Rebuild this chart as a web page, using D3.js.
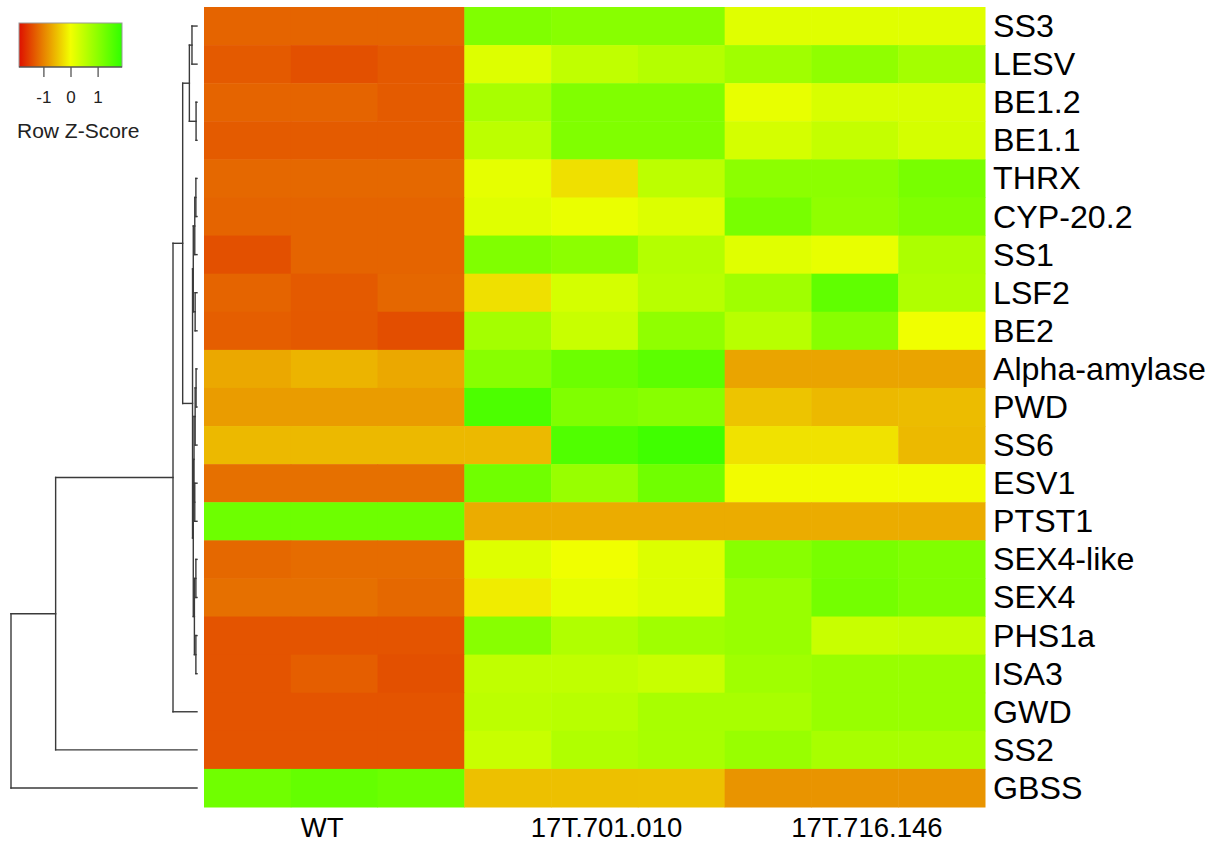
<!DOCTYPE html>
<html>
<head>
<meta charset="utf-8">
<script src="https://cdn.jsdelivr.net/npm/d3@7"></script>
<style>
  html, body { margin: 0; padding: 0; background: #fff; }
  svg { display: block; font-family: "Liberation Sans", Arial, Helvetica, sans-serif; }
</style>
</head>
<body>
<svg id="chart" width="1218" height="845"></svg>
<script>
// ---------------- data ----------------
const genes = ["SS3","LESV","BE1.2","BE1.1","THRX","CYP-20.2","SS1","LSF2","BE2",
  "Alpha-amylase","PWD","SS6","ESV1","PTST1","SEX4-like","SEX4","PHS1a","ISA3","GWD","SS2","GBSS"];
const samples = ["WT-1","WT-2","WT-3","701-1","701-2","701-3","716-1","716-2","716-3"];
const groupLabels = ["WT","17T.701.010","17T.716.146"];
const groupSampleIndex = [1, 4, 7];

// Row z-scores (one array per gene, 9 samples each)
const zSS3    = [-1.23,-1.23,-1.23, 1.12, 1.04, 1.04, 0.18, 0.18, 0.18];
const zLESV   = [-1.31,-1.39,-1.32, 0.21, 0.49, 0.61, 0.80, 0.96, 0.76];
const zBE12   = [-1.23,-1.23,-1.30, 0.72, 1.12, 1.12, 0.10, 0.25, 0.25];
const zBE11   = [-1.30,-1.30,-1.30, 0.53, 1.12, 1.12, 0.29, 0.45, 0.29];
const zTHRX   = [-1.20,-1.20,-1.20, 0.12,-0.25, 0.53, 1.00, 1.00, 1.19];
const zCYP    = [-1.23,-1.23,-1.23, 0.18, 0.08, 0.22, 1.19, 0.96, 1.12];
const zSS1    = [-1.39,-1.23,-1.23, 1.12, 1.00, 0.61, 0.18, 0.10, 0.69];
const zLSF2   = [-1.23,-1.31,-1.21,-0.25, 0.29, 0.57, 0.80, 1.43, 0.65];
const zBE2    = [-1.28,-1.32,-1.41, 0.76, 0.41, 0.96, 0.57, 1.04, 0.02];
const zAMY    = [-0.69,-0.60,-0.69, 1.04, 1.31, 1.47,-0.72,-0.72,-0.72];
const zPWD    = [-0.79,-0.79,-0.79, 1.63, 1.12, 1.04,-0.47,-0.56,-0.53];
const zSS6    = [-0.56,-0.56,-0.56,-0.56, 1.59, 1.74,-0.23,-0.23,-0.56];
const zESV1   = [-1.14,-1.14,-1.14, 1.27, 0.88, 1.27,-0.02,-0.02,-0.02];
const zPTST1  = [ 1.30, 1.30, 1.30,-0.66,-0.66,-0.66,-0.66,-0.66,-0.66];
const zSEX4L  = [-1.20,-1.17,-1.17, 0.20, 0.02, 0.22, 1.04, 1.19, 1.12];
const zSEX4   = [-1.14,-1.14,-1.20,-0.15, 0.12, 0.22, 0.88, 1.23, 1.12];
const zPHS1a  = [-1.36,-1.36,-1.36, 1.04, 0.65, 0.80, 0.88, 0.41, 0.45];
const zISA3   = [-1.36,-1.28,-1.39, 0.49, 0.49, 0.41, 0.80, 0.88, 0.88];
const zGWD    = [-1.36,-1.36,-1.36, 0.53, 0.57, 0.72, 0.72, 0.88, 0.88];
const zSS2    = [-1.36,-1.36,-1.36, 0.41, 0.65, 0.72, 0.88, 0.72, 0.72];
const zGBSS   = [ 1.27, 1.39, 1.31,-0.50,-0.50,-0.49,-0.85,-0.85,-0.85];
const zScores = [zSS3,zLESV,zBE12,zBE11,zTHRX,zCYP,zSS1,zLSF2,zBE2,zAMY,zPWD,zSS6,
  zESV1,zPTST1,zSEX4L,zSEX4,zPHS1a,zISA3,zGWD,zSS2,zGBSS];

// Row dendrogram merges (hclust style): negative = leaf (1-based row), positive = earlier merge
const mergeLeft   = [-3,-10,-5,-15,-17, 3, 2,-13,-8,-1, 6, 7, 4,12,11,10,16,17,18,19];
const mergeRight  = [-4,-11,-6,-16,-18,-7,-12,-14,-9,-2, 9, 8, 5,13,14, 1,15,-19,-20,-21];
const mergeHeight = [0.05,0.05,0.06,0.06,0.06,0.12,0.10,0.12,0.10,0.27,0.20,0.16,0.14,0.20,0.24,0.41,0.77,1.29,7.6,10];

// Legend
const keyDomain = [-1.9, 1.9];
const keyTicks = [-1, 0, 1];

// ---------------- drawing ----------------
const svg = d3.select("#chart");
const hm = {x0: 204, x1: 985, y0: 7, y1: 807};

const xScale = d3.scaleBand().domain(samples).range([hm.x0, hm.x1]);
const yScale = d3.scaleBand().domain(genes).range([hm.y0, hm.y1]);
const color = d3.scaleLinear().domain([-1.9, 0, 1.9])
  .range(["#DE1000", "#F2FF00", "#30FF00"]).clamp(true);

const cells = [];
zScores.forEach((row, i) => row.forEach((v, j) => cells.push({gene: genes[i], sample: samples[j], v})));

svg.append("g").selectAll("rect").data(cells).join("rect")
  .attr("x", d => xScale(d.sample))
  .attr("y", d => yScale(d.gene))
  .attr("width", xScale.bandwidth() + 0.5)
  .attr("height", yScale.bandwidth() + 0.5)
  .attr("fill", d => color(d.v));

// Row labels
svg.append("g").selectAll("text").data(genes).join("text")
  .attr("x", hm.x1 + 8)
  .attr("y", d => yScale(d) + yScale.bandwidth() / 2 + 11)
  .attr("font-size", 32.2)
  .attr("fill", "#000")
  .text(d => d);

// Column group labels
svg.append("g").selectAll("text").data(groupLabels).join("text")
  .attr("x", (d, i) => xScale(samples[groupSampleIndex[i]]) + xScale.bandwidth() / 2 + (i === 0 ? -12 : 12))
  .attr("y", 837)
  .attr("text-anchor", "middle")
  .attr("font-size", 27.5)
  .attr("fill", "#000")
  .text(d => d);

// Dendrogram
const hScale = d3.scaleLinear().domain([0, 10]).range([197, 11]);
const nodeY = [], nodeH = [];
function childPos(c) {
  if (c < 0) { const g = genes[-c - 1]; return {y: yScale(g) + yScale.bandwidth() / 2, h: 0}; }
  return {y: nodeY[c - 1], h: nodeH[c - 1]};
}
const segs = [];
mergeLeft.forEach((l, k) => {
  const a = childPos(l), b = childPos(mergeRight[k]);
  const h = mergeHeight[k];
  segs.push([h, a.y, h, b.y]);
  segs.push([h, a.y, a.h, a.y]);
  segs.push([h, b.y, b.h, b.y]);
  nodeY.push((a.y + b.y) / 2);
  nodeH.push(h);
});
svg.append("g").selectAll("line").data(segs).join("line")
  .attr("x1", d => hScale(d[0])).attr("y1", d => d[1])
  .attr("x2", d => hScale(d[2])).attr("y2", d => d[3])
  .attr("stroke", "#3a3a3a").attr("stroke-width", 1.4).attr("stroke-linecap", "square");

// Color key
const keyX = d3.scaleLinear().domain(keyDomain).range([19, 122]);
const grad = svg.append("defs").append("linearGradient").attr("id", "keygrad")
  .attr("x1", "0%").attr("x2", "100%").attr("y1", "0%").attr("y2", "0%");
d3.range(0, 1.0001, 0.05).forEach(t => {
  const v = keyDomain[0] + t * (keyDomain[1] - keyDomain[0]);
  grad.append("stop").attr("offset", (t * 100) + "%").attr("stop-color", color(v));
});
svg.append("rect").attr("x", keyX(keyDomain[0])).attr("y", 23)
  .attr("width", keyX(keyDomain[1]) - keyX(keyDomain[0])).attr("height", 44)
  .attr("fill", "url(#keygrad)").attr("stroke", "#999").attr("stroke-width", 1);
svg.append("line").attr("x1", keyX(keyDomain[0])).attr("x2", keyX(keyDomain[1]))
  .attr("y1", 67).attr("y2", 67).attr("stroke", "#333").attr("stroke-width", 1.2);
const keyAxis = svg.append("g").attr("transform", "translate(0,67)")
  .call(d3.axisBottom(keyX).tickValues(keyTicks).tickSize(10).tickPadding(14).tickFormat(d => String(d)));
keyAxis.select(".domain").remove();
keyAxis.selectAll("line").attr("stroke", "#555").attr("stroke-width", 1.3);
keyAxis.selectAll("text").attr("font-size", 17).attr("fill", "#222")
  .attr("font-family", "Liberation Sans, Arial, sans-serif");
svg.append("text").attr("x", 17).attr("y", 138).attr("font-size", 21).attr("fill", "#222")
  .text("Row Z-Score");
</script>
</body>
</html>
